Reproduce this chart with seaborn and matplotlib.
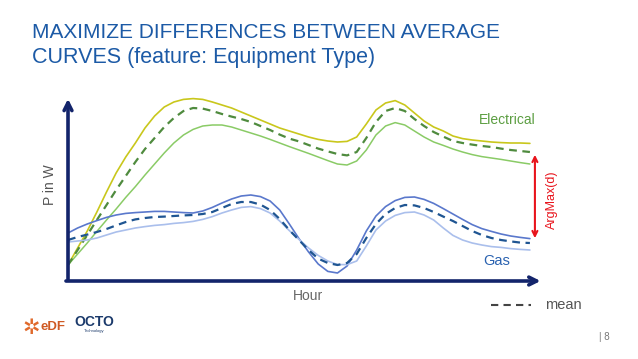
import numpy as np
import pandas as pd
import matplotlib
matplotlib.use('Agg')
import matplotlib.pyplot as plt
import seaborn as sns

sns.set_style('white')
plt.rcParams['font.family'] = ['Liberation Sans', 'DejaVu Sans']

# hours of the day, one reading every half hour
hours = [h / 2 for h in range(49)]

# Electrical curves (P in W)
elec_high = [80, 165, 250, 345, 445, 540, 620, 690, 765, 825, 870, 895, 908, 912, 908, 895,
             880, 865, 845, 825, 805, 785, 765, 750, 735, 720, 708, 700, 695, 698, 720, 785,
             855, 890, 902, 880, 840, 800, 770, 750, 725, 712, 705, 700, 695, 692, 690, 690, 688]
elec_mean = [80, 155, 230, 305, 380, 455, 525, 595, 660, 715, 770, 815, 850, 865, 862, 850,
             835, 822, 810, 795, 775, 755, 732, 712, 698, 680, 662, 648, 635, 628, 645, 715,
             795, 850, 865, 850, 810, 775, 745, 722, 700, 690, 682, 675, 670, 662, 655, 650, 645]
elec_low = [80, 135, 190, 248, 305, 360, 418, 472, 530, 585, 640, 690, 730, 758, 775, 780,
            780, 770, 755, 740, 725, 708, 690, 672, 655, 638, 620, 602, 585, 580, 600, 655,
            730, 775, 792, 780, 750, 720, 695, 678, 660, 645, 632, 622, 615, 608, 600, 592, 585]

# Gas curves (P in W)
gas_high = [240, 265, 285, 302, 318, 330, 338, 342, 345, 348, 348, 345, 342, 340, 350, 368,
            390, 410, 425, 430, 422, 400, 355, 285, 212, 145, 85, 48, 40, 75, 155, 250,
            325, 372, 402, 418, 420, 408, 388, 362, 335, 308, 282, 262, 248, 235, 225, 218, 212]
gas_mean = [205, 220, 232, 245, 260, 278, 295, 308, 315, 320, 322, 325, 328, 330, 335, 345,
            365, 385, 395, 395, 382, 355, 310, 255, 205, 155, 112, 90, 80, 90, 135, 215,
            285, 335, 365, 380, 378, 365, 345, 322, 300, 275, 250, 230, 215, 205, 198, 192, 190]
gas_low = [195, 200, 205, 215, 230, 245, 255, 265, 272, 278, 282, 288, 292, 298, 308, 322,
           340, 355, 368, 372, 362, 340, 300, 252, 208, 165, 128, 100, 82, 82, 100, 175,
           255, 300, 328, 342, 345, 330, 305, 265, 228, 205, 190, 180, 172, 168, 162, 158, 155]

curves = {
    'elec_high': elec_high, 'elec_low': elec_low, 'elec_mean': elec_mean,
    'gas_high': gas_high, 'gas_low': gas_low, 'gas_mean': gas_mean,
}
df = pd.concat([pd.DataFrame({'hour': hours, 'power': v, 'curve': k}) for k, v in curves.items()])

styles = {
    'elec_high': ('#c9c71c', '-', 1.2),
    'elec_low': ('#8acb66', '-', 1.1),
    'elec_mean': ('#4f8b3e', (0, (3.5, 2.5)), 1.6),
    'gas_high': ('#5a78cc', '-', 1.2),
    'gas_low': ('#aabfec', '-', 1.2),
    'gas_mean': ('#1f5592', (0, (3.5, 2.5)), 1.6),
}

fig = plt.figure(figsize=(6.38, 3.59), dpi=100)
ax = fig.add_axes([60 / 638, 71 / 359, 488 / 638, 198 / 359])

for name, (col, ls, lw) in styles.items():
    sns.lineplot(data=df[df['curve'] == name], x='hour', y='power', color=col,
                 linewidth=lw, linestyle=ls, ax=ax, legend=False)

ax.set_xlim(-0.416, 24.94)
ax.set_ylim(-35, 955)
for s in ax.spines.values():
    s.set_visible(False)
ax.set_xticks([])
ax.set_yticks([])
ax.set_xlabel('')
ax.set_ylabel('')

navy = '#13246b'
ax.annotate('', xy=(0, 925), xytext=(0, -5),
            arrowprops=dict(arrowstyle='->', color=navy, lw=2.6, mutation_scale=14))
ax.annotate('', xy=(24.7, 0), xytext=(-0.25, 0),
            arrowprops=dict(arrowstyle='->', color=navy, lw=2.6, mutation_scale=14))

# ArgMax(d) double arrow between the two means
ax.annotate('', xy=(24.26, 645), xytext=(24.26, 200),
            arrowprops=dict(arrowstyle='<->', color='#e8141c', lw=1.5, mutation_scale=9))

W, H = 638, 359
def ft(x, y, s, **kw):
    fig.text(x / W, 1 - y / H, s, **kw)

title_col = '#1c5aa6'
ft(32, 32, 'MAXIMIZE DIFFERENCES BETWEEN AVERAGE', fontsize=15, color=title_col, va='center')
ft(32, 58, 'CURVES (feature: Equipment Type)', fontsize=15.5, color=title_col, va='center')

ft(507, 120, 'Electrical', fontsize=10, color='#5c9e42', ha='center', va='center')
ft(497, 261, 'Gas', fontsize=10.5, color='#2a62b0', ha='center', va='center')
ft(552, 200, 'ArgMax(d)', fontsize=9, color='#e8141c', ha='center', va='center', rotation=90)
ft(308, 296, 'Hour', fontsize=10, color='#666666', ha='center', va='center')
ft(50, 185, 'P in W', fontsize=10, color='#555555', ha='center', va='center', rotation=90)

# legend for mean
fig.add_artist(plt.Line2D([491 / W, 531 / W], [1 - 305 / H, 1 - 305 / H], color='#444444',
                          lw=1.5, linestyle=(0, (3.5, 2.5))))
ft(545, 305, 'mean', fontsize=10.5, color='#555555', va='center')

ft(604, 337, '| 8', fontsize=7, color='#777777', ha='center', va='center')

# logos
ft(31, 328, '✲', fontsize=15, color='#e06a2c', ha='center', va='center', family='DejaVu Sans')
ft(53, 327, 'eDF', fontsize=9.5, color='#cf5a24', ha='center', va='center', fontweight='bold')
ft(94, 322, 'OCTO', fontsize=10, color='#1b3a6b', ha='center', va='center', fontweight='bold')
ft(94, 331, 'Technology', fontsize=3, color='#1b3a6b', ha='center', va='center')

fig.savefig('out.png', dpi=100)
